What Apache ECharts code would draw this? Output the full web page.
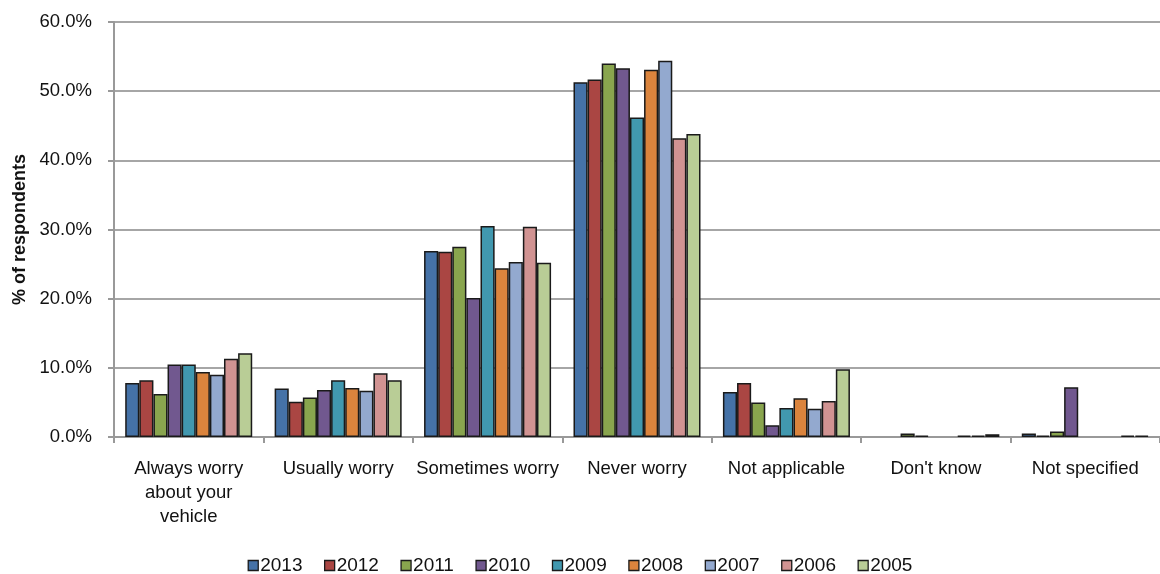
<!DOCTYPE html>
<html><head><meta charset="utf-8">
<script src="https://cdn.jsdelivr.net/npm/echarts@6/dist/echarts.min.js"></script>
<style>html,body{margin:0;padding:0;background:#fff}#c{width:1160px;height:574px}</style>
</head><body><div id="c"></div>
<script>
const categories = ["Always worry\nabout your\nvehicle","Usually worry","Sometimes worry","Never worry","Not applicable","Don't know","Not specified"];
const years = ["2013","2012","2011","2010","2009","2008","2007","2006","2005"];
const colors = ["#4572A7","#AA4643","#89A54E","#71588F","#4198AF","#DB843D","#93A9CF","#D19392","#B9CD96"];
const yTicks = [0,10,20,30,40,50,60];
const v2013 = [7.8, 7.0, 26.9, 51.3, 6.5, null, 0.5];
const v2012 = [8.2, 5.1, 26.8, 51.7, 7.8, null, 0.2];
const v2011 = [6.2, 5.7, 27.5, 54.0, 5.0, 0.5, 0.8];
const v2010 = [10.5, 6.8, 20.1, 53.3, 1.7, 0.2, 7.2];
const v2009 = [10.5, 8.2, 30.5, 46.2, 4.2, null, null];
const v2008 = [9.4, 7.1, 24.4, 53.1, 5.6, null, null];
const v2007 = [9.0, 6.7, 25.3, 54.4, 4.1, 0.2, null];
const v2006 = [11.3, 9.2, 30.4, 43.2, 5.2, 0.2, 0.2];
const v2005 = [12.1, 8.2, 25.2, 43.8, 9.8, 0.4, 0.2];
const seriesValues = [v2013,v2012,v2011,v2010,v2009,v2008,v2007,v2006,v2005];

const font = "'Liberation Sans', Arial, sans-serif";
const chart = echarts.init(document.getElementById('c'));
chart.setOption({
  animation:false,
  textStyle:{fontFamily:font},
  grid:{left:114,right:0,top:22,bottom:137,containLabel:false},
  legend:{
    bottom:-6, left:'center', itemWidth:10, itemHeight:10, itemGap:21.5,
    textStyle:{fontFamily:font,fontSize:19,color:'#111',padding:[0,0,0,-3]},
    icon:'rect',
    itemStyle:{borderColor:'#1a1a1a',borderWidth:1.3}
  },
  xAxis:{
    type:'category', data:categories,
    axisLine:{lineStyle:{color:'#999',width:2}},
    axisTick:{show:true,length:6,lineStyle:{color:'#999',width:2}},
    axisLabel:{interval:0,fontSize:18.5,color:'#111',lineHeight:24,margin:20,fontFamily:font}
  },
  yAxis:{
    type:'value', min:0, max:60, interval:10,
    name:'% of respondents', nameLocation:'middle', nameGap:85, nameRotate:90,
    nameTextStyle:{fontSize:18,fontWeight:'bold',color:'#111',fontFamily:font},
    axisLine:{show:true,lineStyle:{color:'#999',width:2}},
    axisTick:{show:true,length:6,lineStyle:{color:'#999',width:2}},
    splitLine:{lineStyle:{color:'#a6a6a6',width:2}},
    axisLabel:{fontSize:18.5,color:'#111',margin:22,fontFamily:font,
      formatter:function(v){return yTicks.indexOf(v)>=0 ? v.toFixed(1)+'%' : '';}}
  },
  series: years.map(function(y,i){
    return {name:y,type:'bar',data:seriesValues[i],barGap:'0%',barCategoryGap:'15%',
      itemStyle:{color:colors[i],borderColor:'#1a1a1a',borderWidth:1.5}};
  })
});
</script></body></html>
